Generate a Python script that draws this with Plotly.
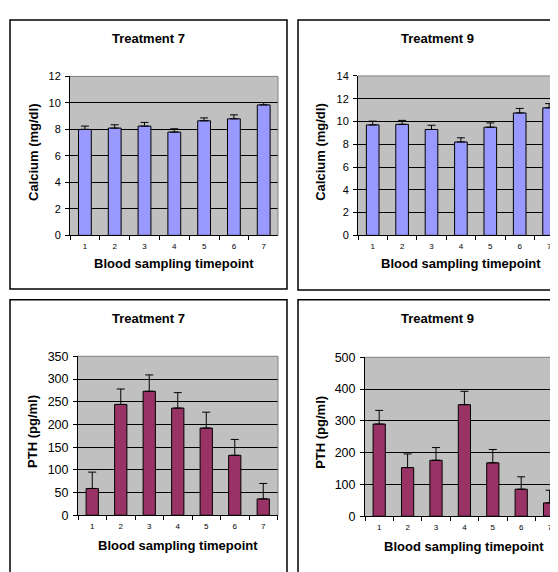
import plotly.graph_objects as go
from plotly.subplots import make_subplots

# The page body has an 8px margin, so the figure is placed at (8, 8) in the window.
OFF = 8
W, H = 558 - OFF, 572 - OFF

timepoints = ["1", "2", "3", "4", "5", "6", "7"]

calcium_t7 = [8.0, 8.1, 8.25, 7.8, 8.65, 8.8, 9.85]
calcium_t7_err = [0.25, 0.25, 0.28, 0.25, 0.22, 0.3, 0.18]
calcium_t9 = [9.7, 9.75, 9.3, 8.2, 9.5, 10.75, 11.2]
calcium_t9_err = [0.33, 0.35, 0.37, 0.37, 0.38, 0.4, 0.37]
pth_t7 = [59, 244, 273, 236, 192, 132, 36]
pth_t7_err = [36, 34, 36, 34, 35, 35, 34]
pth_t9 = [290, 153, 176, 351, 168, 85, 42]
pth_t9_err = [43, 43, 40, 42, 42, 39, 40]

titles = ["Treatment 7", "Treatment 9", "Treatment 7", "Treatment 9"]
y_titles = ["Calcium (mg/dl)", "Calcium (mg/dl)", "PTH (pg/ml)", "PTH (pg/ml)"]
x_title = "Blood sampling timepoint"
y_ranges = [[0, 12], [0, 14], [0, 350], [0, 500]]
y_dticks = [2, 2, 50, 100]

CA_COLOR = "#9999FF"
PTH_COLOR = "#993366"
FONT = "Liberation Sans, Arial, sans-serif"


def px_x(x):
    return (x - OFF) / W


def px_y(y):
    return 1 - (y - OFF) / H


# panel layout in window pixels: plot-area left, right, top, bottom, category spacing; frame box
panels = [
    dict(l=70, r=278, t=71, b=234, step=29.8, fx0=10, fx1=287, fy0=13, fy1=289, xt=29),
    dict(l=358, r=558, t=70.5, b=234, step=29.4, fx0=298, fx1=576, fy0=13, fy1=290, xt=29),
    dict(l=78, r=278, t=358, b=521, step=28.5, fx0=10, fx1=287, fy0=300, fy1=590, xt=31),
    dict(l=365, r=558, t=359, b=522, step=28.4, fx0=298, fx1=576, fy0=300, fy1=590, xt=31),
]

fig = make_subplots(rows=2, cols=2)

data = [
    (calcium_t7, calcium_t7_err, CA_COLOR),
    (calcium_t9, calcium_t9_err, CA_COLOR),
    (pth_t7, pth_t7_err, PTH_COLOR),
    (pth_t9, pth_t9_err, PTH_COLOR),
]

shapes = []
annotations = []

for i, ((vals, errs, color), p) in enumerate(zip(data, panels)):
    row, col = i // 2 + 1, i % 2 + 1
    fig.add_trace(
        go.Bar(
            x=timepoints,
            y=vals,
            width=0.43,
            marker=dict(color=color, line=dict(color="black", width=1)),
            error_y=dict(
                type="data",
                symmetric=False,
                array=errs,
                arrayminus=[0] * len(errs),
                color="black",
                thickness=1,
                width=4,
            ),
            showlegend=False,
        ),
        row=row,
        col=col,
    )
    axn = "" if i == 0 else str(i + 1)
    xr_end = -0.5 + (p["r"] - p["l"]) / p["step"]
    fig.update_xaxes(
        type="category",
        domain=[px_x(p["l"]), min(1, px_x(p["r"]))],
        range=[-0.5, xr_end],
        showline=True,
        linecolor="black",
        linewidth=1,
        ticks="outside",
        tickson="boundaries",
        ticklen=4,
        tickcolor="black",
        showgrid=False,
        tickfont=dict(family=FONT, size=8, color="black"),
        ticklabelstandoff=3,
        row=row,
        col=col,
    )
    fig.update_yaxes(
        domain=[px_y(p["b"]), px_y(p["t"])],
        range=y_ranges[i],
        dtick=y_dticks[i],
        showline=True,
        linecolor="black",
        linewidth=1,
        ticks="outside",
        ticklen=4,
        tickcolor="black",
        showgrid=True,
        gridcolor="black",
        gridwidth=1,
        zeroline=False,
        tickfont=dict(family=FONT, size=11 if i < 2 else 12.5, color="black"),
        ticklabelstandoff=2,
        row=row,
        col=col,
    )
    xref = "x" + axn + " domain"
    yref = "y" + axn + " domain"
    # gray plot-area border on top and right
    shapes.append(dict(type="line", xref=xref, yref=yref, x0=0, x1=1.05 if col == 2 else 1,
                       y0=1, y1=1, line=dict(color="#808080", width=1), layer="above"))
    if col == 1:
        shapes.append(dict(type="line", xref=xref, yref=yref, x0=1, x1=1,
                           y0=0, y1=1, line=dict(color="#808080", width=1), layer="above"))
    # outer chart frame
    shapes.append(dict(type="rect", xref="paper", yref="paper",
                       x0=px_x(p["fx0"]), x1=px_x(p["fx1"]),
                       y0=px_y(p["fy1"]), y1=px_y(p["fy0"]),
                       line=dict(color="black", width=1.5), fillcolor="rgba(0,0,0,0)",
                       layer="below"))
    # chart title
    annotations.append(dict(text="<b>" + titles[i] + "</b>", xref="paper", yref="paper",
                            x=px_x((p["fx0"] + p["fx1"]) / 2), y=px_y(p["fy0"] + 19),
                            xanchor="center", yanchor="middle", showarrow=False,
                            font=dict(family=FONT, size=13, color="black")))
    # x axis title
    annotations.append(dict(text="<b>" + x_title + "</b>", xref="paper", yref="paper",
                            x=px_x((p["l"] + (p["l"] + 7 * p["step"])) / 2), y=px_y(p["b"] + p["xt"]),
                            xanchor="center", yanchor="middle", showarrow=False,
                            font=dict(family=FONT, size=13, color="black")))
    # y axis title
    annotations.append(dict(text="<b>" + y_titles[i] + "</b>", xref="paper", yref="paper",
                            x=px_x(p["fx0"] + 23), y=px_y((p["t"] + p["b"]) / 2 - 4),
                            xanchor="center", yanchor="middle", showarrow=False, textangle=-90,
                            font=dict(family=FONT, size=13, color="black")))

fig.update_layout(
    width=W,
    height=H,
    margin=dict(l=0, r=0, t=0, b=0),
    paper_bgcolor="white",
    plot_bgcolor="#C0C0C0",
    shapes=shapes,
    annotations=annotations,
    font=dict(family=FONT, color="black"),
)

fig.write_html("out.html")
